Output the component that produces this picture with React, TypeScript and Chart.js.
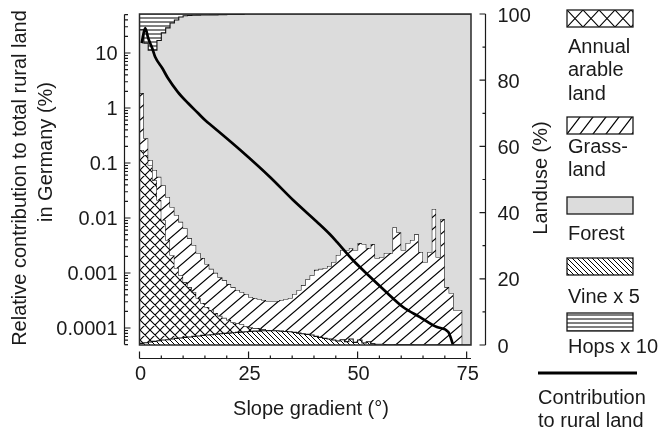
import React, { useEffect, useRef } from "react";
import { Chart, registerables } from "chart.js";

Chart.register(...registerables);

// ---------- data ----------
// slope bins, 1 degree wide, left edges
const slopeBinStart = [
  0, 1, 2, 3, 4, 5, 6, 7, 8, 9, 10, 11, 12, 13, 14, 15, 16, 17, 18, 19,
  20, 21, 22, 23, 24, 25, 26, 27, 28, 29, 30, 31, 32, 33, 34, 35, 36, 37, 38, 39,
  40, 41, 42, 43, 44, 45, 46, 47, 48, 49, 50, 51, 52, 53, 54, 55, 56, 57, 58, 59,
  60, 61, 62, 63, 64, 65, 66, 67, 68, 69, 70, 71, 72, 73, 74, 75,
];
const slopeEnd = 76;

// landuse (%), cumulative from the bottom: annual arable land top
const arablePct = [
  60.4, 58.9, 57.4, 54.4, 49.8, 43.8, 37.8, 31.7, 27.2, 23.3,
  21.1, 19.0, 17.5, 16.0, 14.2, 12.7, 11.5, 10.6, 9.7, 8.8,
  8.2, 7.6, 6.9, 6.6, 6.3, 5.7, 5.4, 5.1, 5.1, 4.8,
  4.5, 4.3, 4.1, 3.9, 3.7, 3.5, 3.3, 3.1, 2.9, 2.7,
  2.5, 2.3, 2.1, 1.9, 1.7, 1.5, 1.3, 1.2, 1.1, 1.0,
  0.9, 0.8, 0.7, 0.6, 0.5, 0.4, 0.4, 0.3, 0.3, 0.3,
  0.2, 0.2, 0.2, 0.2, 0.1, 0.1, 0.1, 0.1, 0.1, 0.1,
  0.1, 0.1, 0.1, 0.1, 0.1, 0,
];
// grassland top (= forest bottom), cumulative %
const grassTopPct = [
  87.0, 76.1, 62.5, 55.9, 52.9, 50.8, 48.3, 44.7, 41.7, 39.3,
  37.2, 35.3, 32.3, 30.2, 27.8, 26.3, 24.5, 23.0, 21.8, 20.5,
  19.6, 18.4, 17.5, 16.6, 16.0, 15.4, 14.5, 14.2, 13.9, 13.6,
  13.3, 13.3, 13.3, 13.6, 13.9, 14.2, 15.4, 16.6, 18.1, 19.9,
  21.1, 22.7, 23.0, 23.3, 23.9, 25.1, 27.2, 28.7, 28.7, 29.3,
  28.7, 30.8, 30.5, 29.3, 30.5, 26.3, 26.6, 27.8, 27.8, 35.6,
  34.1, 28.7, 30.8, 31.7, 33.5, 28.1, 25.1, 28.1, 41.1, 26.6,
  38.1, 17.5, 15.7, 10.6, 10.6, 0,
];
// vine x 5 (%), from the bottom
const vinePct = [
  0.3, 0.5, 0.7, 0.9, 1.1, 1.3, 1.5, 1.6, 1.8, 2.0,
  2.1, 2.3, 2.4, 2.6, 2.7, 2.9, 3.0, 3.1, 3.3, 3.4,
  3.5, 3.6, 3.7, 3.8, 3.9, 4.0, 4.1, 4.2, 4.2, 4.3,
  4.3, 4.3, 4.3, 4.2, 4.1, 4.0, 3.8, 3.6, 3.4, 3.2,
  3.0, 2.6, 2.3, 2.0, 1.8, 1.5, 1.2, 1.6, 1.0, 1.8,
  0.8, 1.5, 0.6, 1.0, 0.3, 0, 0, 0, 0, 0,
  0, 0, 0, 0, 0, 0, 0, 0, 0, 0,
  0, 0, 0, 0, 0, 0,
];
// hops x 10 (%), hanging from the top (100 %)
const hopsPct = [
  2.7, 4.8, 8.8, 10.9, 10.9, 8.0, 5.7, 4.2, 2.7, 1.8,
  0.9, 0.55, 0.45, 0.4, 0.35, 0.3, 0.3, 0.25, 0.25, 0.2,
  0.2, 0.15, 0.15, 0.1, 0.1, 0, 0, 0, 0, 0,
  0, 0, 0, 0, 0, 0, 0, 0, 0, 0,
  0, 0, 0, 0, 0, 0, 0, 0, 0, 0,
  0, 0, 0, 0, 0, 0, 0, 0, 0, 0,
  0, 0, 0, 0, 0, 0, 0, 0, 0, 0,
  0, 0, 0, 0, 0, 0,
];
const forestTopPct = slopeBinStart.map(() => 100);

// relative contribution to total rural land (%), log axis
const contribSlope = [
  0.5, 1.3, 2.0, 2.9, 3.6, 5.2, 6.5, 8.8, 11.1, 13.4, 15.0, 16.9, 23.1,
  29.9, 35.2, 40.7, 43.7, 45.3, 48.9, 52.9, 56.8, 60.4, 64.3, 68.2, 70.8, 71.9,
];
const contribPct = [
  15.1, 28.5, 18.6, 12.3, 8.45, 5.33, 3.51, 1.95, 1.23, 0.81, 0.605, 0.452, 0.172,
  0.0556, 0.0212, 0.00845, 0.0050, 0.00363, 0.00172, 0.000845, 0.000433, 0.000241,
  0.000158, 0.000104, 0.0000845, 0.000049,
];

// axes
const xTicks = [0, 25, 50, 75];
const logTicks = [10, 1, 0.1, 0.01, 0.001, 0.0001];
const logTickLabels = ["10", "1", "0.1", "0.01", "0.001", "0.0001"];
const pctTicks = [0, 20, 40, 60, 80, 100];
const logMin = 4.909e-5;
const logMax = 51.17;

const xTitle = "Slope gradient (\u00B0)";
const leftTitle = ["Relative contribution to total rural land", "in Germany (%)"];
const rightTitle = "Landuse (%)";
const legendLabels = [
  ["Annual", "arable", "land"],
  ["Grass-", "land"],
  ["Forest"],
  ["Vine x 5"],
  ["Hops x 10"],
  ["Contribution", "to rural land"],
];

// ---------- styling ----------
const W = 665;
const H = 435;
const FONT = '20px "Liberation Sans", Arial, Helvetica, sans-serif';
const INK = "#1a1a1a";
const GREY = "#dcdcdc";

type Draw = (g: CanvasRenderingContext2D, w: number, h: number) => void;

function makeTile(w: number, h: number, lw: number, draw: Draw, bg = "#ffffff") {
  const c = document.createElement("canvas");
  c.width = w;
  c.height = h;
  const g = c.getContext("2d") as CanvasRenderingContext2D;
  g.fillStyle = bg;
  g.fillRect(0, 0, w, h);
  g.strokeStyle = "#000";
  g.lineWidth = lw;
  g.beginPath();
  draw(g, w, h);
  g.stroke();
  return c;
}
const slash: Draw = (g, w, h) => {
  for (const dx of [-w, 0, w]) {
    g.moveTo(dx - w * 0.2, h + h * 0.2);
    g.lineTo(dx + w * 1.2, -h * 0.2);
  }
};
const backslash: Draw = (g, w, h) => {
  for (const dx of [-w, 0, w]) {
    g.moveTo(dx - w * 0.2, -h * 0.2);
    g.lineTo(dx + w * 1.2, h + h * 0.2);
  }
};
const cross: Draw = (g, w, h) => {
  slash(g, w, h);
  backslash(g, w, h);
};
const horiz: Draw = (g, w, h) => {
  g.moveTo(-1, h / 2);
  g.lineTo(w + 1, h / 2);
};

function stepSeries(values: number[]) {
  const pts = slopeBinStart.map((x, i) => ({ x, y: values[i] }));
  pts.push({ x: slopeEnd, y: values[values.length - 1] });
  return pts;
}

export default function App() {
  const ref = useRef<HTMLCanvasElement | null>(null);

  useEffect(() => {
    document.body.style.margin = "0";
    const canvas = ref.current;
    if (!canvas) return;
    const ctx = canvas.getContext("2d") as CanvasRenderingContext2D;

    const pat = (c: HTMLCanvasElement) => ctx.createPattern(c, "repeat") as CanvasPattern;
    const crossP = pat(makeTile(10, 10, 1.1, cross));
    const grassP = pat(makeTile(14, 12, 1.2, slash));
    const vineP = pat(makeTile(5, 5, 1.0, backslash));
    const hopsP = pat(makeTile(4, 4, 1.0, horiz));

    const crossL = pat(makeTile(16, 17, 1.1, cross));
    const grassL = pat(makeTile(13, 17, 1.2, slash));
    const vineL = pat(makeTile(5, 5, 1.0, backslash));
    const hopsL = pat(makeTile(4, 4, 1.0, horiz));

    const decor = {
      id: "decor",
      afterDatasetsDraw(chart: any) {
        const c = chart.ctx as CanvasRenderingContext2D;
        const xs = chart.scales.x;
        const yp = chart.scales.yPct;
        const yl = chart.scales.yLog;
        const x0 = xs.getPixelForValue(0);
        const x1 = xs.getPixelForValue(slopeEnd);
        const yT = yp.getPixelForValue(100);
        const yB = yp.getPixelForValue(0);
        c.save();
        // frame
        c.strokeStyle = "#2a2a2a";
        c.lineWidth = 1.5;
        c.strokeRect(x0, yT, x1 - x0, yB - yT);

        c.strokeStyle = INK;
        c.fillStyle = INK;
        c.lineWidth = 1.2;
        c.font = FONT;

        // left log axis
        const lx = Math.round(x0 - 15.5) + 0.5;
        c.beginPath();
        c.moveTo(lx, yl.getPixelForValue(5e-5));
        c.lineTo(lx, yl.getPixelForValue(50));
        for (let e = -5; e <= 1; e++) {
          for (let m = 1; m <= 9; m++) {
            const v = m * Math.pow(10, e);
            if (v < 4.99e-5 || v > 50.01) continue;
            const y = yl.getPixelForValue(v);
            c.moveTo(lx, y);
            c.lineTo(lx + (m === 1 ? 6 : 3.5), y);
          }
        }
        c.stroke();
        c.textAlign = "right";
        c.textBaseline = "middle";
        logTicks.forEach((v, i) => {
          c.fillText(logTickLabels[i], lx - 7, yl.getPixelForValue(v) + 1);
        });

        // right percent axis
        const rx = Math.round(x1 + 14) + 0.5;
        c.beginPath();
        c.moveTo(rx, yp.getPixelForValue(0));
        c.lineTo(rx, yp.getPixelForValue(100));
        for (let v = 0; v <= 100; v += 10) {
          const y = yp.getPixelForValue(v);
          c.moveTo(rx, y);
          c.lineTo(rx - (v % 20 === 0 ? 6 : 3), y);
        }
        c.stroke();
        c.textAlign = "left";
        pctTicks.forEach((v) => {
          c.fillText(String(v), rx + 12, yp.getPixelForValue(v) + 2);
        });

        // bottom axis
        const by = Math.round(yB + 13) + 0.5;
        c.beginPath();
        c.moveTo(x0, by);
        c.lineTo(x1, by);
        for (let v = 0; v <= 75; v += 5) {
          const x = xs.getPixelForValue(v);
          c.moveTo(x, by);
          c.lineTo(x, by - (v % 25 === 0 ? 7 : 3));
        }
        c.stroke();
        c.textAlign = "center";
        xTicks.forEach((v) => {
          c.fillText(String(v), xs.getPixelForValue(v) + 1, by + 16);
        });
        c.fillText(xTitle, 311, 409);

        // rotated titles
        c.save();
        c.translate(20, 178);
        c.rotate(-Math.PI / 2);
        c.fillText(leftTitle[0], 0, 0);
        c.restore();
        c.save();
        c.translate(46, 152);
        c.rotate(-Math.PI / 2);
        c.fillText(leftTitle[1], 0, 0);
        c.restore();
        c.save();
        c.translate(541, 178);
        c.rotate(-Math.PI / 2);
        c.fillText(rightTitle, 0, 0);
        c.restore();

        // legend
        const bx = 567;
        const bw = 66;
        const boxes: [number, number, any][] = [
          [10, 17, crossL],
          [117, 17, grassL],
          [197, 17, GREY],
          [258, 17, vineL],
          [313, 18, hopsL],
        ];
        boxes.forEach(([y, h, fill]) => {
          c.save();
          c.translate(bx, y);
          c.fillStyle = fill;
          c.fillRect(0, 0, bw, h);
          c.restore();
          c.strokeStyle = INK;
          c.lineWidth = 1.3;
          c.strokeRect(bx, y, bw, h);
        });
        c.fillStyle = INK;
        c.textAlign = "left";
        const textRows: [number, number[]][] = [
          [0, [47, 70, 94]],
          [1, [147, 170]],
          [2, [234]],
          [3, [297]],
          [4, [347]],
          [5, [398, 421]],
        ];
        textRows.forEach(([k, ys]) => {
          const tx = k === 5 ? 538 : 568;
          legendLabels[k].forEach((s, j) => c.fillText(s, tx, ys[j]));
        });
        c.strokeStyle = "#000";
        c.lineWidth = 3;
        c.beginPath();
        c.moveTo(538, 373);
        c.lineTo(637, 373);
        c.stroke();
        c.restore();
      },
    };

    const common = {
      yAxisID: "yPct",
      stepped: "after" as const,
      borderColor: "#111",
      borderWidth: 1.1,
      pointRadius: 0,
      tension: 0,
    };

    const chart = new Chart(ctx, {
      type: "line",
      data: {
        datasets: [
          { ...common, label: "Annual arable land", data: stepSeries(arablePct), fill: "origin", backgroundColor: crossP, order: 6 },
          { ...common, label: "Grassland", data: stepSeries(grassTopPct), fill: "-1", backgroundColor: grassP, order: 5 },
          { ...common, label: "Forest", data: stepSeries(forestTopPct), fill: "-1", backgroundColor: GREY, borderWidth: 0, order: 4 },
          { ...common, label: "Hops x 10", data: stepSeries(hopsPct.map((h) => 100 - h)), fill: { value: 100 }, backgroundColor: hopsP, order: 3 },
          { ...common, label: "Vine x 5", data: stepSeries(vinePct), fill: "origin", backgroundColor: vineP, order: 2 },
          {
            label: "Contribution to rural land",
            yAxisID: "yLog",
            data: contribSlope.map((x, i) => ({ x, y: contribPct[i] })),
            borderColor: "#000",
            borderWidth: 2.7,
            pointRadius: 0,
            fill: false,
            cubicInterpolationMode: "monotone",
            order: 1,
          } as any,
        ],
      },
      options: {
        responsive: false,
        animation: false,
        events: [],
        layout: { padding: { left: 139.5, right: W - 471, top: 14, bottom: H - 345 } },
        plugins: { legend: { display: false }, tooltip: { enabled: false }, title: { display: false } },
        scales: {
          x: { type: "linear", min: 0, max: slopeEnd, display: false },
          yPct: { type: "linear", position: "right", min: 0, max: 100, display: false },
          yLog: { type: "logarithmic", position: "left", min: logMin, max: logMax, display: false },
        },
      },
      plugins: [decor],
    } as any);

    return () => chart.destroy();
  }, []);

  return <canvas ref={ref} width={W} height={H} style={{ display: "block" }} />;
}
